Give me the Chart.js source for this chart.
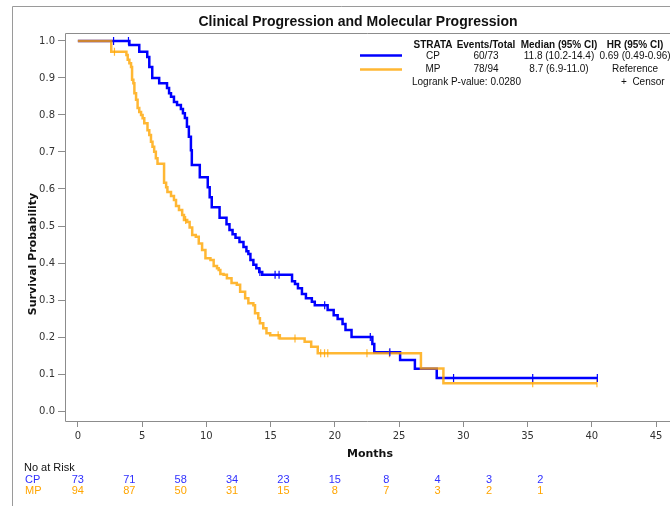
<!DOCTYPE html>
<html><head><meta charset="utf-8">
<script src="https://cdn.jsdelivr.net/npm/chart.js@4.4.0/dist/chart.umd.min.js"></script>
<style>html,body{margin:0;padding:0;background:#fff;overflow:hidden}</style>
</head><body>
<canvas id="c" width="670" height="506"></canvas>
<script>
// ---- data ----
const xTicks = [0,5,10,15,20,25,30,35,40,45];
const yTicks = [0,0.1,0.2,0.3,0.4,0.5,0.6,0.7,0.8,0.9,1.0];

const cpTimes = [0,4.01,4.78,5.40,5.56,5.79,6.33,6.94,7.10,7.25,7.48,7.72,8.02,8.18,8.33,8.49,8.64,8.80,8.87,9.49,10.11,10.26,10.42,11.03,11.57,11.80,12.04,12.27,12.58,12.89,13.12,13.27,13.43,13.66,13.89,14.12,14.35,16.67,16.90,17.13,17.44,17.75,18.21,18.44,19.44,19.91,20.22,20.60,20.83,21.30,22.92,23.07,25.08,26.23,27.93,40.43];
const cpSurv  = [1.0,0.989,0.971,0.957,0.930,0.900,0.886,0.873,0.859,0.849,0.835,0.827,0.816,0.805,0.792,0.768,0.741,0.705,0.665,0.632,0.605,0.578,0.551,0.522,0.505,0.489,0.478,0.468,0.457,0.443,0.432,0.424,0.408,0.395,0.386,0.376,0.368,0.351,0.343,0.332,0.316,0.305,0.295,0.286,0.273,0.259,0.249,0.235,0.219,0.200,0.181,0.159,0.138,0.114,0.089,0.089];
const cpCensor = [2.78,3.94,14.17,15.35,15.66,19.21,22.76,24.28,29.24,35.40,40.43];

const mpTimes = [0,2.60,3.78,3.88,4.01,4.14,4.22,4.32,4.40,4.53,4.65,4.78,4.92,5.04,5.17,5.42,5.56,5.69,5.81,5.94,6.07,6.20,6.71,6.87,6.97,7.25,7.48,7.64,7.87,8.12,8.26,8.51,8.70,8.90,9.18,9.41,9.67,9.93,10.32,10.57,10.83,10.96,11.09,11.34,11.60,11.96,12.37,12.63,13.02,13.27,13.66,13.79,14.04,14.17,14.43,14.68,14.97,15.72,17.65,18.16,18.67,26.70,28.45,40.40];
const mpSurv  = [1.0,0.971,0.962,0.949,0.940,0.930,0.895,0.886,0.859,0.841,0.819,0.808,0.800,0.791,0.778,0.759,0.746,0.728,0.714,0.701,0.683,0.668,0.617,0.605,0.592,0.581,0.570,0.554,0.543,0.530,0.516,0.511,0.496,0.476,0.471,0.453,0.435,0.413,0.408,0.392,0.386,0.381,0.370,0.368,0.359,0.346,0.341,0.322,0.305,0.291,0.286,0.264,0.251,0.237,0.224,0.210,0.205,0.196,0.187,0.174,0.156,0.115,0.075,0.075];
const mpCensor = [2.85,8.39,15.59,16.90,18.90,19.20,19.45,22.50,24.25,35.40,40.40];

const riskTimes = [0,4,8,12,16,20,24,28,32,36];
const cpRisk = [73,71,58,34,23,15,8,4,3,2];
const mpRisk = [94,87,50,31,15,8,7,3,2,1];

const legendHeader = ['STRATA','Events/Total','Median (95% CI)','HR (95% CI)'];
const legendCP = ['CP','60/73','11.8 (10.2-14.4)','0.69 (0.49-0.96)'];
const legendMP = ['MP','78/94','8.7 (6.9-11.0)','Reference'];

// ---- helpers ----
const BLUE = '#0000ff';
const ORANGE = 'rgba(255,165,0,0.8)';
function pts(t, s){ return t.map((v,i)=>({x:v, y:s[i]})); }
function survAt(t, s, time){ let v = s[0]; for(let i=0;i<t.length;i++){ if(t[i]<=time) v=s[i]; } return v; }
function censorPts(c, t, s){ return c.map(v=>({x:v, y:survAt(t,s,v)})); }

const deco = {
  id:'deco',
  afterDraw(chart){
    const {ctx, chartArea:a, scales:{x}} = chart;
    ctx.save();
    // outer frame
    ctx.strokeStyle='#9a9a9a'; ctx.lineWidth=1;
    ctx.beginPath(); ctx.moveTo(12.5,506); ctx.lineTo(12.5,6.5); ctx.lineTo(670,6.5); ctx.stroke();
    // plot frame
    ctx.strokeStyle='#8c8c8c';
    ctx.beginPath();
    ctx.moveTo(670, a.top+0.5); ctx.lineTo(a.left+0.5, a.top+0.5); ctx.lineTo(a.left+0.5, a.bottom+0.5); ctx.lineTo(670, a.bottom+0.5);
    ctx.stroke();
    // title
    ctx.fillStyle='#111'; ctx.textBaseline='middle'; ctx.textAlign='center';
    ctx.font="bold 14px 'Liberation Sans', Arial, sans-serif";
    ctx.fillText('Clinical Progression and Molecular Progression', 358, 22);
    // axis titles
    ctx.font="bold 11px 'DejaVu Sans', sans-serif";
    ctx.fillText('Months', 370, 454);
    ctx.save(); ctx.translate(33, 254); ctx.rotate(-Math.PI/2);
    ctx.fillText('Survival Probability', 0, 0); ctx.restore();
    // legend table
    const cols = [433, 486, 559, 635];
    ctx.font="bold 10px 'Liberation Sans', Arial, sans-serif";
    legendHeader.forEach((s,i)=>ctx.fillText(s, cols[i], 45));
    ctx.font="10px 'Liberation Sans', Arial, sans-serif";
    legendCP.forEach((s,i)=>ctx.fillText(s, cols[i], 56));
    legendMP.forEach((s,i)=>ctx.fillText(s, cols[i], 69));
    ctx.textAlign='left';
    ctx.fillText('Logrank P-value: 0.0280', 412, 82);
    ctx.fillText('+  Censor', 621, 82);
    ctx.lineWidth=2.5;
    ctx.strokeStyle=BLUE; ctx.beginPath(); ctx.moveTo(360,55.5); ctx.lineTo(402,55.5); ctx.stroke();
    ctx.strokeStyle=ORANGE; ctx.beginPath(); ctx.moveTo(360,69.5); ctx.lineTo(402,69.5); ctx.stroke();
    // at-risk table
    ctx.font="11px 'Liberation Sans Narrow', 'Liberation Sans', Arial, sans-serif";
    ctx.fillStyle='#111'; ctx.textAlign='left';
    ctx.fillText('No at Risk', 24, 468);
    ctx.fillStyle='#3030ff'; ctx.fillText('CP', 25, 480);
    ctx.fillStyle='#ffa500'; ctx.fillText('MP', 25, 491);
    ctx.textAlign='center';
    riskTimes.forEach((t,i)=>{
      const px = x.getPixelForValue(t);
      ctx.fillStyle='#3030ff'; ctx.fillText(String(cpRisk[i]), px, 480);
      ctx.fillStyle='#ffa500'; ctx.fillText(String(mpRisk[i]), px, 491);
    });
    ctx.restore();
  }
};

new Chart(document.getElementById('c'), {
  type:'line',
  data:{
    datasets:[
      {label:'CP censor', data:censorPts(cpCensor,cpTimes,cpSurv), showLine:false, pointStyle:'line', rotation:90, pointRadius:4, pointBorderColor:BLUE, pointBorderWidth:1.2, borderColor:BLUE, order:0},
      {label:'MP censor', data:censorPts(mpCensor,mpTimes,mpSurv), showLine:false, pointStyle:'line', rotation:90, pointRadius:4, pointBorderColor:ORANGE, pointBorderWidth:1.2, borderColor:ORANGE, order:0},
      {label:'MP', data:pts(mpTimes,mpSurv), stepped:'before', borderColor:ORANGE, borderWidth:2.5, pointRadius:0, fill:false, order:1},
      {label:'CP', data:pts(cpTimes,cpSurv), stepped:'before', borderColor:BLUE, borderWidth:2.5, pointRadius:0, fill:false, order:2}
    ]
  },
  options:{
    responsive:false, animation:false, events:[],
    layout:{padding:{top:33,left:0,right:0,bottom:0}},
    plugins:{legend:{display:false}, tooltip:{enabled:false}, title:{display:false}},
    scales:{
      x:{type:'linear', min:-1, max:45.68,
        afterBuildTicks(s){ s.ticks = xTicks.map(v=>({value:v})); },
        afterFit(s){ s.height = 85; },
        grid:{drawOnChartArea:false, drawTicks:true, tickLength:6, color:'#8c8c8c'},
        border:{display:false},
        ticks:{font:{family:'DejaVu Sans', size:10}, color:'#333', padding:3, maxRotation:0, autoSkip:false}
      },
      y:{type:'linear', min:-0.027, max:1.0216,
        afterBuildTicks(s){ s.ticks = yTicks.map(v=>({value:v})); },
        afterFit(s){ s.width = 65; },
        grid:{drawOnChartArea:false, drawTicks:true, tickLength:7, color:'#8c8c8c'},
        border:{display:false},
        ticks:{font:{family:'DejaVu Sans', size:10}, color:'#333', padding:3, callback:v=>Number(v).toFixed(1), autoSkip:false}
      }
    }
  },
  plugins:[deco]
});
</script>
</body></html>
